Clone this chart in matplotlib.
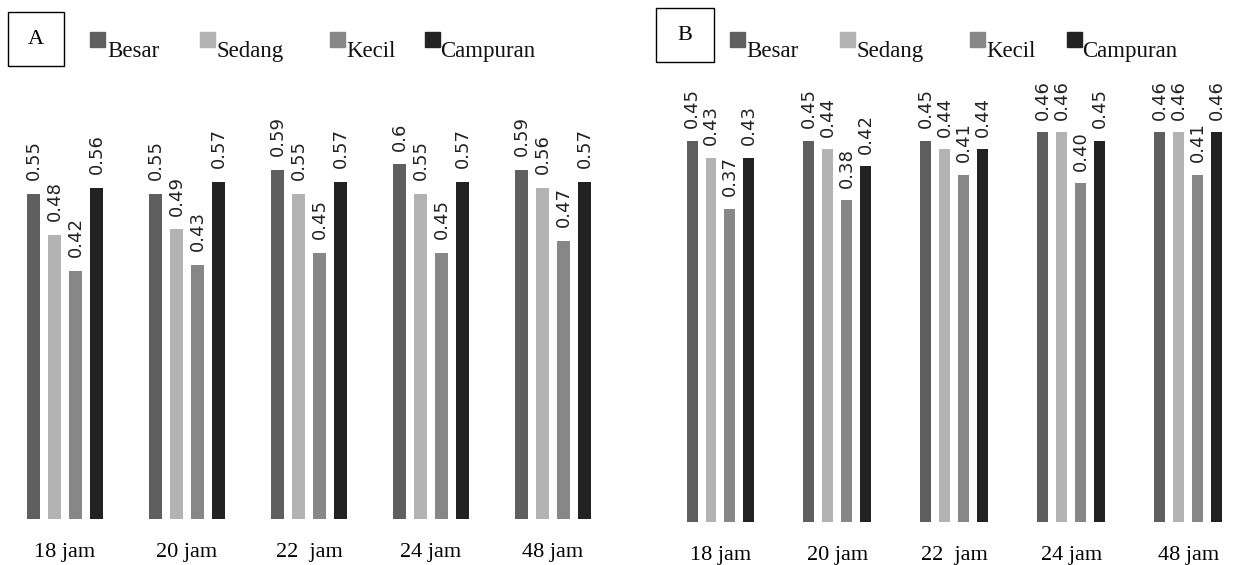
"""Two-panel grouped bar chart (A and B) of four size classes over time."""

import matplotlib.pyplot as plt
import numpy as np
from matplotlib.patches import Rectangle

categories = ["18 jam", "20 jam", "22  jam", "24 jam", "48 jam"]
series_names = ["Besar", "Sedang", "Kecil", "Campuran"]

# panel A values
a_besar = [0.55, 0.55, 0.59, 0.6, 0.59]
a_sedang = [0.48, 0.49, 0.55, 0.55, 0.56]
a_kecil = [0.42, 0.43, 0.45, 0.45, 0.47]
a_campuran = [0.56, 0.57, 0.57, 0.57, 0.57]
a_labels = [
	["0.55", "0.55", "0.59", "0.6", "0.59"],
	["0.48", "0.49", "0.55", "0.55", "0.56"],
	["0.42", "0.43", "0.45", "0.45", "0.47"],
	["0.56", "0.57", "0.57", "0.57", "0.57"],
]

# panel B values
b_besar = [0.45, 0.45, 0.45, 0.46, 0.46]
b_sedang = [0.43, 0.44, 0.44, 0.46, 0.46]
b_kecil = [0.37, 0.38, 0.41, 0.40, 0.41]
b_campuran = [0.43, 0.42, 0.44, 0.45, 0.46]
b_labels = [
	["0.45", "0.45", "0.45", "0.46", "0.46"],
	["0.43", "0.44", "0.44", "0.46", "0.46"],
	["0.37", "0.38", "0.41", "0.40", "0.41"],
	["0.43", "0.42", "0.44", "0.45", "0.46"],
]

colors = ["#5f5f5f", "#b3b3b3", "#878787", "#222222"]

W, H = 1240, 565
SERIF = "Liberation Serif"


def px_axes(fig, left, right, top, bottom):
	return fig.add_axes([left / W, 1 - bottom / H, (right - left) / W, (bottom - top) / H])


def draw_panel(ax, series, labels, step, width, ylim_top, xlim, label_gap, tick_pad):
	x = np.arange(len(categories))
	offsets = (np.arange(4) - 1.5) * step
	for i, vals in enumerate(series):
		bars = ax.bar(x + offsets[i], vals, width=width, color=colors[i])
		for bar, lab in zip(bars, labels[i]):
			ax.annotate(
				lab,
				(bar.get_x() + bar.get_width() / 2, bar.get_height()),
				xytext=(0, label_gap),
				textcoords="offset points",
				rotation=90,
				ha="center",
				va="bottom",
				fontsize=13,
				color="#222222",
			)
	ax.set_xlim(*xlim)
	ax.set_ylim(0, ylim_top)
	ax.set_xticks(x)
	ax.set_xticklabels(categories, family=SERIF, fontsize=16)
	ax.tick_params(axis="x", length=0, pad=tick_pad)
	ax.set_yticks([])
	for s in ax.spines.values():
		s.set_visible(False)


def draw_header(fig, letter, box, squares, text_x):
	x0, y0, x1, y1 = box
	fig.patches.append(
		Rectangle((x0 / W, 1 - y1 / H), (x1 - x0) / W, (y1 - y0) / H,
		          transform=fig.transFigure, fill=False, edgecolor="black", linewidth=1.0)
	)
	fig.text((x0 + x1) / 2 / W, 1 - (y0 + y1) / 2 / H, letter, family=SERIF,
	         fontsize=16, ha="center", va="center")
	for name, color, sx, tx in zip(series_names, colors, squares, text_x):
		fig.patches.append(
			Rectangle((sx / W, 1 - 47 / H), 15 / W, 15 / H,
			          transform=fig.transFigure, color=color)
		)
		fig.text(tx / W, 1 - 57 / H, name, family=SERIF, fontsize=16.5,
		         ha="left", va="baseline", color="#111111")


fig = plt.figure(figsize=(W / 100, H / 100), dpi=100)

ax_a = px_axes(fig, 4, 614, 90, 519)
draw_panel(ax_a, [a_besar, a_sedang, a_kecil, a_campuran], a_labels,
           step=0.172, width=0.1, ylim_top=429 / 591, xlim=(-0.5, 4.5),
           label_gap=10, tick_pad=17)

ax_b = px_axes(fig, 662, 1235, 85, 522)
draw_panel(ax_b, [b_besar, b_sedang, b_kecil, b_campuran], b_labels,
           step=0.162, width=0.094, ylim_top=437 / 847, xlim=(-0.5, 4.4),
           label_gap=9, tick_pad=17)

draw_header(fig, "A", (8, 12, 64, 66), [90, 200, 330, 425], [107, 216, 346, 440])
draw_header(fig, "B", (656, 8, 714, 62), [730, 840, 970, 1067], [746, 856, 986, 1082])

fig.savefig("out.png", dpi=100)
